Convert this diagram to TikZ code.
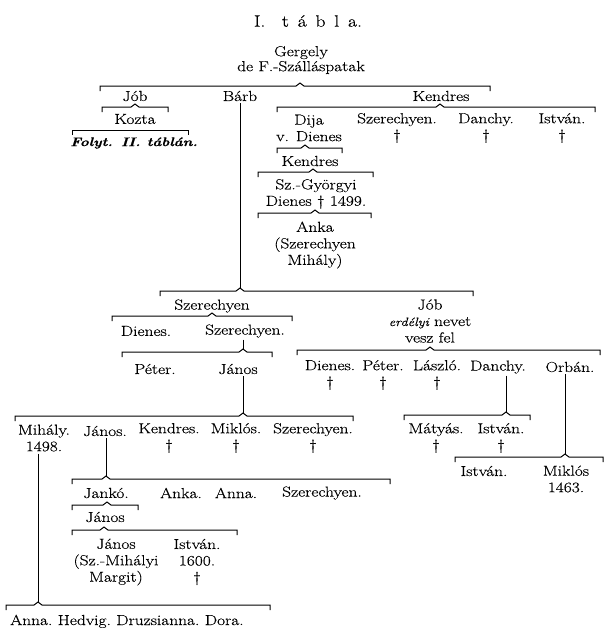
\documentclass[tikz,border=0pt]{standalone}
\usepackage{fontspec}
\setmainfont{Latin Modern Roman}[FakeStretch=1.2,FakeBold=0.4]
\usetikzlibrary{calc}
\newcommand\kinbar[5]{% parent, notch x, bar y, left x, right x
  \coordinate (#1-n) at (#2,#3);
  \draw[bar] (#4,#3+5) -- (#4,#3) -- ([xshift=-4pt]#1-n) -- ([yshift=3pt]#1-n) -- ([xshift=4pt]#1-n) -- (#5,#3) -- (#5,#3+5);}
\newcommand\kinstem[1]{\draw[bar] (#1-n |- #1.south) ++(0,2) -- ([yshift=3pt]#1-n);}
\begin{document}
\begin{tikzpicture}[x=1pt,y=-1pt,
  person/.style={inner sep=0pt, align=center, font=\fontsize{14.5}{16.5}\selectfont},
  bar/.style={line width=1pt, line join=miter}]
\fill[white] (0,0) rectangle (609,638);
\useasboundingbox (0,0) rectangle (609,638);
% title
\node[person, font=\fontsize{16.5}{18}\selectfont] (title) at (308,21) {I.\quad t\ \,á\ \,b\ \,l\ \,a.};
% generation 1
\node[person, font=\fontsize{14.5}{15}\selectfont] (g) at (301,60) {Gergely\\de F.-Szálláspatak};
\kinbar{g}{300}{86}{100}{490}
\node[person] (job1) at (135,96) {Jób};
\node[person] (barb) at (240,96) {Bárb};
\node[person] (kendres1) at (441,96) {Kendres};
% Jób branch
\kinbar{job1}{135}{107}{102}{168}
\node[person] (kozta) at (135,119) {Kozta};
\draw[bar] (72,135) -- (72,130) -- (188,130) -- (188,135);
\node[person, font=\fontsize{12.5}{14}\selectfont\bfseries\itshape] (folyt) at (134,143) {Folyt. II. táblán.};
% Kendres branch
\kinbar{kendres1}{440}{107}{277}{595}
\node[person] (dija) at (309,128) {Dija\\v. Dienes};
\node[person] (szer1) at (397,128) {Szerechyen.\\\textdagger};
\node[person] (danchy1) at (486,128) {Danchy.\\\textdagger};
\node[person] (istvan1) at (562,128) {István.\\\textdagger};
\kinbar{dija}{305}{148}{277}{342}
\node[person] (kendres2) at (310,161) {Kendres};
\kinbar{kendres2}{313}{172}{258}{373}
\node[person] (szgy) at (316,194) {Sz.-Györgyi\\Dienes \textdagger\ 1499.};
\kinbar{szgy}{315}{213}{258}{371}
\node[person] (anka1) at (315,245) {Anka\\(Szerechyen\\Mihály)};
% Bárb branch
\kinbar{barb}{240}{291}{160}{473}
\kinstem{barb}
\node[person] (szer2) at (212,306) {Szerechyen};
\node[person] (job2) at (430,321) {Jób\\{\fontsize{12}{15}\selectfont\itshape erdélyi} nevet\\vesz fel};
\kinbar{szer2}{212}{316}{112}{292}
\node[person] (dienes1) at (146,331) {Dienes.};
\node[person] (szer3) at (245,331) {Szerechyen.};
\kinbar{szer3}{243}{352}{122}{272}
\kinstem{szer3}
\node[person] (peter1) at (155,369) {Péter.};
\node[person] (janos1) at (238,369) {János};
\kinbar{janos1}{243}{416}{15}{353}
\kinstem{janos1}
\node[person] (mihaly) at (44,438) {Mihály.\\1498.};
\node[person] (janos2) at (105,431) {János.};
\node[person] (kendres3) at (169,438) {Kendres.\\\textdagger};
\node[person] (miklos1) at (236,438) {Miklós.\\\textdagger};
\node[person] (szer4) at (313,438) {Szerechyen.\\\textdagger};
\kinbar{mihaly}{38}{605}{6}{270}
\kinstem{mihaly}
\kinbar{janos2}{106}{479}{72}{390}
\kinstem{janos2}
\node[person] (janko) at (106,493) {Jankó.};
\node[person] (anka2) at (181,493) {Anka.};
\node[person] (anna1) at (236,493) {Anna.};
\node[person] (szer5) at (322,493) {Szerechyen.};
\kinbar{janko}{107}{505}{72}{138}
\node[person] (janos3) at (105,517) {János};
\kinbar{janos3}{104}{530}{72}{237}
\node[person] (janos4) at (116,562) {János\\(Sz.-Mihályi\\Margit)};
\node[person] (istvan2) at (197,562) {István.\\1600.\\\textdagger};
\node[person, anchor=base west] (anna2) at (10,625) {Anna.};
\node[person, anchor=base west] (hedvig) at ([xshift=5pt]anna2.base east) {Hedvig.};
\node[person, anchor=base west] (druzs) at ([xshift=5pt]hedvig.base east) {Druzsianna.};
\node[person, anchor=base west] (dora) at ([xshift=5pt]druzs.base east) {Dora.};
% Jób (erdélyi) branch
\kinbar{job2}{430}{350}{297}{600}
\node[person] (dienes2) at (330,375) {Dienes.\\\textdagger};
\node[person] (peter2) at (383,375) {Péter.\\\textdagger};
\node[person] (laszlo) at (437,375) {László.\\\textdagger};
\node[person] (danchy2) at (498,367) {Danchy.};
\node[person] (orban) at (570,367) {Orbán.};
\kinbar{danchy2}{506}{415}{404}{530}
\kinstem{danchy2}
\node[person] (matyas) at (436,438) {Mátyás.\\\textdagger};
\node[person] (istvan3) at (501,438) {István.\\\textdagger};
\kinbar{orban}{565}{457}{455}{603}
\kinstem{orban}
\node[person] (istvan4) at (484,471) {István.};
\node[person] (miklos2) at (566,479) {Miklós\\1463.};
\end{tikzpicture}
\end{document}
